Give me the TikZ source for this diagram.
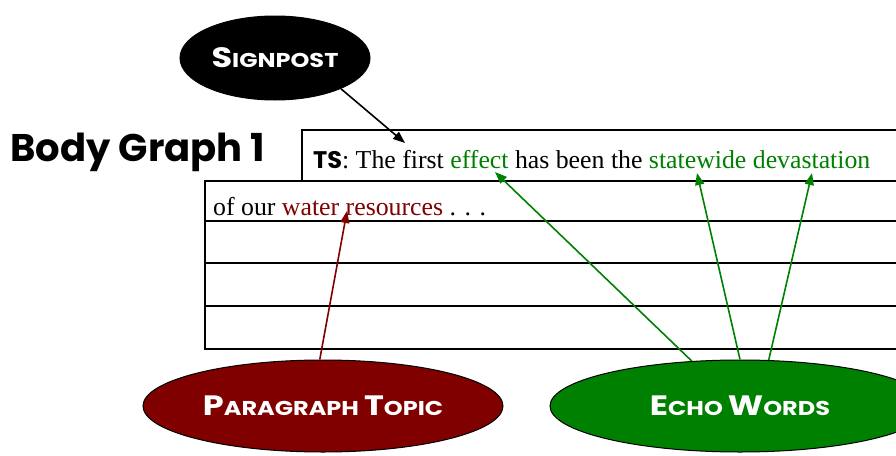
\documentclass[tikz,border=0pt]{standalone}
\usepackage{fontspec}
\setmainfont{Liberation Serif}
\newfontfamily\headfont{Poppins}
\usetikzlibrary{shapes.geometric,arrows.meta}
\definecolor{echogreen}{RGB}{0,128,0}
\definecolor{topicred}{RGB}{128,0,0}
\newcommand{\fakesc}[2]{{\fontsize{28}{28}\selectfont #1}{\fontsize{20}{20}\selectfont #2}}
\newcommand{\wide}[1]{\scalebox{1.2}[1]{#1}}
\tikzset{
  oval/.style={ellipse,draw=black,line width=1pt,inner sep=0pt,text=white,font=\headfont\bfseries\fontsize{20}{20}\selectfont},
  rule/.style={line width=1.6pt},
  gline/.style={draw=echogreen,line width=1.6pt,-{Triangle[length=12pt,width=9pt]}},
  rline/.style={draw=topicred,line width=1.6pt,-{Triangle[length=12pt,width=9pt]}},
  kline/.style={draw=black,line width=1.6pt,-{Triangle[length=12pt,width=9pt]}},
  bodytext/.style={anchor=base west,inner sep=0pt,font=\fontsize{25.8}{25.8}\selectfont}
}
\begin{document}
\begin{tikzpicture}[x=1pt,y=-1pt]
\useasboundingbox (0,0) rectangle (896,455);
\clip (0,0) rectangle (896,455);
% boxes
\draw[rule] (302,181) -- (302,130) -- (900,130);
\draw[rule] (205,181) rectangle (900,349);
\draw[rule] (205,221) -- (900,221);
\draw[rule] (205,263) -- (900,263);
\draw[rule] (205,306) -- (900,306);
% title
\node[anchor=base west,inner sep=0pt,font=\headfont\bfseries\fontsize{38.5}{38.5}\selectfont] (title) at (10,161) {Body Graph 1};
% text lines
\node[bodytext] (line1) at (313,168) {{\headfont\bfseries\fontsize{24}{24}\selectfont TS}: The first \textcolor{echogreen}{effect} has been the \textcolor{echogreen}{statewide devastation}};
\node[bodytext] (line2) at (213,215) {of our \textcolor{topicred}{water resources} . . .};
% ellipses
\node[oval,fill=black,minimum width=190pt,minimum height=84pt] (sign) at (275,58) {\wide{\fakesc{S}{IGNPOST}}};
\node[oval,fill=topicred,minimum width=360pt,minimum height=92pt] (topic) at (323,406) {\wide{\fakesc{P}{ARAGRAPH}\ \fakesc{T}{OPIC}}};
\node[oval,fill=echogreen,minimum width=380pt,minimum height=92pt] (echo) at (740,406) {\wide{\fakesc{E}{CHO}\ \fakesc{W}{ORDS}}};
% targets
\coordinate (signpt) at (405,143);
\coordinate (effectpt) at (495,172);
\coordinate (statept) at (697,173);
\coordinate (devpt) at (812,173);
\coordinate (waterpt) at (347,211);
% connectors
\draw[kline] (sign.-25) -- (signpt);
\draw[gline] (echo.137) -- (effectpt);
\draw[gline] (echo.90) -- (statept);
\draw[gline] (echo.58) -- (devpt);
\draw[rline] (topic.94) -- (waterpt);
\end{tikzpicture}
\end{document}
